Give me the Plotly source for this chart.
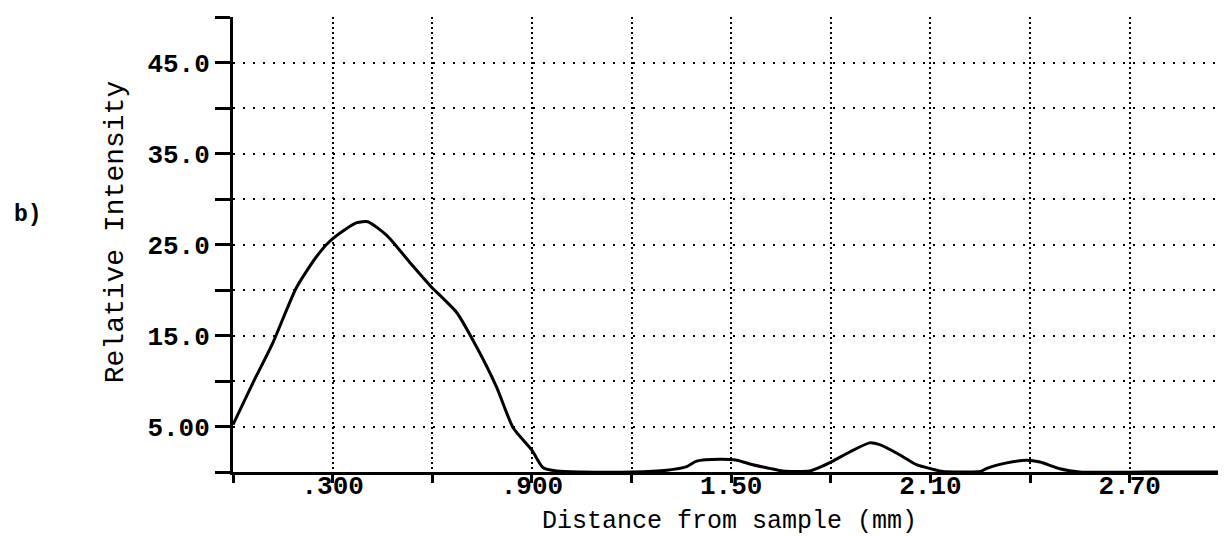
import plotly.graph_objects as go

# Data (distance in mm, relative intensity)
distance_mm = [0.0, 0.06, 0.12, 0.19, 0.25, 0.29, 0.34, 0.373, 0.406, 0.463, 0.533, 0.593,
               0.674, 0.734, 0.794, 0.843, 0.90, 0.933, 0.975, 1.05, 1.20, 1.306, 1.366,
               1.396, 1.466, 1.517, 1.565, 1.616, 1.655, 1.736, 1.766, 1.806, 1.857,
               1.917, 1.947, 2.007, 2.058, 2.107, 2.137, 2.20, 2.25, 2.27, 2.33, 2.39,
               2.43, 2.49, 2.55, 2.75, 2.99]
intensity = [5.2, 9.8, 14.2, 20.2, 23.6, 25.3, 26.7, 27.4, 27.5, 26.0, 23.0, 20.5,
             17.5, 13.7, 9.3, 4.9, 2.4, 0.5, 0.1, 0.0, 0.0, 0.2, 0.6,
             1.2, 1.4, 1.3, 0.8, 0.4, 0.1, 0.1, 0.5, 1.2, 2.2,
             3.2, 3.0, 1.9, 0.8, 0.3, 0.05, 0.0, 0.05, 0.4, 1.0, 1.3,
             1.1, 0.35, 0.0, 0.0, 0.0]

x_tickvals = [0.0, 0.3, 0.6, 0.9, 1.2, 1.5, 1.8, 2.1, 2.4, 2.7]
x_ticktext = ["", ".300", "", ".900", "", "1.50", "", "2.10", "", "2.70"]
y_tickvals = [0, 5, 10, 15, 20, 25, 30, 35, 40, 45, 50]
y_ticktext = ["", "5.00", "", "15.0", "", "25.0", "", "35.0", "", "45.0", ""]

x_title = "Distance from sample (mm)"
y_title = "Relative Intensity"
panel_label = "b)"

fig = go.Figure()
fig.add_trace(go.Scatter(
    x=distance_mm, y=intensity, mode="lines",
    line=dict(color="black", width=3, shape="spline", smoothing=0.6),
    showlegend=False, hoverinfo="skip"))

tickfont = dict(family="Liberation Mono", size=26, color="black", weight="bold")

fig.update_layout(
    width=1218, height=528,
    margin=dict(l=225, r=0, t=9, b=64),
    paper_bgcolor="white", plot_bgcolor="white",
    xaxis=dict(
        range=[0, 2.99], tickmode="array", tickvals=x_tickvals, ticktext=x_ticktext,
        showgrid=True, gridcolor="black", gridwidth=2, griddash="2px,3px",
        showline=True, linecolor="black", linewidth=3,
        ticks="outside", ticklen=8, tickwidth=2.5, tickcolor="black",
        ticklabelstandoff=-20,
        tickfont=tickfont, zeroline=False, fixedrange=True),
    yaxis=dict(
        range=[0, 50], tickmode="array", tickvals=y_tickvals, ticktext=y_ticktext,
        showgrid=True, gridcolor="black", gridwidth=2, griddash="2px,8px",
        showline=True, linecolor="black", linewidth=3,
        ticks="outside", ticklen=15, tickwidth=3, tickcolor="black",
        tickfont=tickfont, zeroline=False, fixedrange=True),
    annotations=[
        dict(text=y_title, xref="paper", yref="paper", x=-0.1188, y=0.527,
             textangle=-90, showarrow=False, xanchor="center", yanchor="middle",
             font=dict(family="Liberation Mono", size=28, color="black")),
        dict(text=x_title, xref="paper", yref="paper", x=0.5005, y=-0.1077,
             showarrow=False, xanchor="center", yanchor="middle",
             font=dict(family="Liberation Mono", size=25, color="black")),
        dict(text=panel_label, xref="paper", yref="paper", x=-0.2064, y=0.565,
             showarrow=False, xanchor="center", yanchor="middle",
             font=dict(family="Liberation Mono", size=23, color="black", weight="bold")),
    ],
)

fig.write_html("out.html")
